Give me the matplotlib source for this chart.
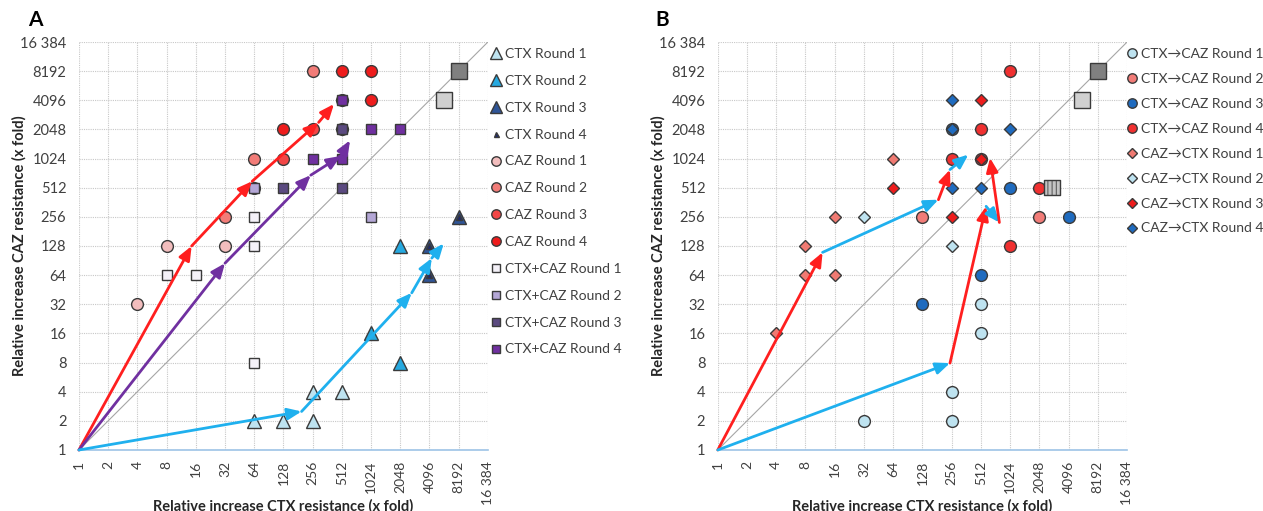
import numpy as np
import matplotlib
matplotlib.use("Agg")
import matplotlib.pyplot as plt

plt.rcParams["font.family"] = ["Lato", "DejaVu Sans"]
plt.rcParams["hatch.color"] = "#9A9A9A"
plt.rcParams["hatch.linewidth"] = 0.6

# fold increase values (x = CTX, y = CAZ)
ticks = [2 ** i for i in range(15)]
tick_labels = [str(t) for t in ticks[:-1]] + ["16 384"]

# panel A - single drug / combination evolution
ctx_r1 = ([64, 128, 256, 256, 512], [2, 2, 2, 4, 4])
ctx_r2 = ([1024, 2048, 2048], [16, 8, 128])
ctx_r3 = ([4096, 4096, 8192], [64, 128, 256])
ctx_r4 = ([4096, 4096, 8192], [64, 128, 256])
caz_r1 = ([4, 8, 32], [32, 128, 128])
caz_r2 = ([32, 64, 256], [256, 1024, 8192])
caz_r3 = ([128, 64, 256], [1024, 512, 2048])
caz_r4 = ([128, 512, 1024, 1024, 512, 512], [2048, 8192, 8192, 4096, 2048, 4096])
mix_r1 = ([8, 16, 64, 64, 64], [64, 64, 8, 128, 256])
mix_r2 = ([64, 1024], [512, 256])
mix_r3 = ([128, 512, 512], [512, 512, 2048])
mix_r4 = ([256, 512, 1024, 2048, 512], [1024, 1024, 2048, 2048, 4096])
ref_a = ([5800, 8192], [4096, 8192])

# mean trajectories panel A
path_caz = ([1, 14.5, 61, 295, 425], [1, 128, 597, 2420, 3750])
path_mix = ([1, 32, 245, 500, 622], [1, 85, 690, 1090, 1580])
path_ctx = ([1, 197, 2690, 4330, 5750], [1, 2.5, 42, 96, 136])

# panel B - sequential evolution
seq1_r1 = ([32, 256, 256, 512, 512], [2, 2, 4, 16, 32])
seq1_r2 = ([128, 2048], [256, 256])
seq1_r3 = ([128, 512, 1024, 4096, 256], [32, 64, 512, 256, 2048])
seq1_r4 = ([256, 512, 1024, 1024, 2048, 512], [1024, 2048, 8192, 128, 512, 1024])
seq2_r1 = ([4, 8, 16, 8, 16, 64], [16, 64, 64, 128, 256, 1024])
seq2_r2 = ([32, 256], [256, 128])
seq2_r3 = ([64, 256, 512, 512], [512, 256, 4096, 1024])
seq2_r4 = ([256, 256, 512, 1024, 256], [4096, 512, 512, 2048, 2048])
ref_b = ([5600, 8192, 2760], [4096, 8192, 512])

# trajectories panel B: (x, y) points, colour per segment
path_b1 = ([1, 12, 187, 246, 380], [1, 110, 385, 788, 1125])
path_b1_col = ["red", "blue", "red", "blue"]
path_b2 = ([1, 246, 579, 793, 636], [1, 7.9, 329, 224, 1040])
path_b2_col = ["blue", "red", "blue", "red"]

RED = "#FF1F1F"
BLUE = "#1FB0EE"
PURPLE = "#7030A0"
arrow_col = {"red": RED, "blue": BLUE, "purple": PURPLE}
EDGE = "#3A3A3A"
TXT = "#404040"


def setup_axes(ax):
    ax.set_xscale("log", base=2)
    ax.set_yscale("log", base=2)
    ax.set_xlim(1, 16384)
    ax.set_ylim(1, 16384)
    ax.set_xticks(ticks)
    ax.set_yticks(ticks)
    ax.set_xticklabels(tick_labels, rotation=90, fontsize=10, color=TXT)
    ax.set_yticklabels(tick_labels, fontsize=10.5, color=TXT)
    ax.minorticks_off()
    ax.tick_params(length=0, pad=9)
    ax.tick_params(axis="x", pad=8)
    ax.grid(True, color="#C8C8C8", linestyle=(0, (1, 1)), linewidth=0.8)
    ax.set_axisbelow(True)
    for s in ["top", "right", "left"]:
        ax.spines[s].set_visible(False)
    ax.spines["bottom"].set_color("#9DC3E6")
    ax.spines["bottom"].set_linewidth(1.2)
    ax.plot([1, 16384], [1, 16384], color="#A6A6A6", lw=0.8, zorder=1)
    ax.set_xlabel("Relative increase CTX resistance (x fold)", fontsize=10.5,
                  fontweight="bold", color="#262626")
    ax.set_ylabel("Relative increase CAZ resistance (x fold)", fontsize=10.5,
                  fontweight="bold", color="#262626")
    ax.xaxis.set_label_coords(0.5, -0.12)
    ax.yaxis.set_label_coords(-0.128, 0.5)


def draw_path(ax, pts, colors):
    xs, ys = pts
    for i in range(len(xs) - 1):
        ax.annotate("", xy=(xs[i + 1], ys[i + 1]), xytext=(xs[i], ys[i]),
                    arrowprops=dict(arrowstyle="-|>,head_length=0.6,head_width=0.25",
                                    color=arrow_col[colors[i]], lw=2,
                                    mutation_scale=14, shrinkA=0, shrinkB=0),
                    zorder=4)


def pts(ax, data, marker, color, ms, label=None, z=3):
    ax.plot(data[0], data[1], marker=marker, ls="none", ms=ms, mfc=color,
            mec=EDGE, mew=1, label=label, zorder=z)


fig = plt.figure(figsize=(12.63, 5.11), dpi=100)
axA = fig.add_axes([0.0625, 0.1194, 0.3238, 0.7984])
axB = fig.add_axes([0.5683, 0.1194, 0.3241, 0.7984])
setup_axes(axA)
setup_axes(axB)

# panel A markers
pts(axA, ctx_r1, "^", "#BEE3F0", 10, "CTX Round 1")
pts(axA, ctx_r2, "^", "#26A9E0", 10, "CTX Round 2")
pts(axA, ctx_r3, "^", "#2F5597", 10, "CTX Round 3")
pts(axA, ctx_r4, "^", "#1F2A6E", 4.5, "CTX Round 4")
pts(axA, caz_r1, "o", "#F2BDBD", 8.5, "CAZ Round 1")
pts(axA, caz_r2, "o", "#F27C78", 8.5, "CAZ Round 2")
pts(axA, caz_r3, "o", "#F24646", 8.5, "CAZ Round 3")
pts(axA, caz_r4, "o", "#EE1C1C", 8.5, "CAZ Round 4")
pts(axA, mix_r1, "s", "#F4F1F8", 6.8, "CTX+CAZ Round 1")
pts(axA, mix_r2, "s", "#B4A7D6", 6.8, "CTX+CAZ Round 2")
pts(axA, mix_r3, "s", "#5B4A80", 6.8, "CTX+CAZ Round 3")
pts(axA, mix_r4, "s", "#7030A0", 6.8, "CTX+CAZ Round 4")
axA.plot(ref_a[0][:1], ref_a[1][:1], "s", ms=11, mfc="#D0D0D0", mec=EDGE, mew=1, zorder=3)
axA.plot(ref_a[0][1:], ref_a[1][1:], "s", ms=11, mfc="#808080", mec=EDGE, mew=1, zorder=3)
draw_path(axA, path_caz, ["red"] * 4)
draw_path(axA, path_mix, ["purple"] * 4)
draw_path(axA, path_ctx, ["blue"] * 4)

# panel B markers
pts(axB, seq1_r1, "o", "#BEE3F0", 8.5, "CTX\u2192CAZ Round 1")
pts(axB, seq1_r2, "o", "#F27C78", 8.5, "CTX\u2192CAZ Round 2")
pts(axB, seq1_r3, "o", "#1F6BBF", 8.5, "CTX\u2192CAZ Round 3")
pts(axB, seq1_r4, "o", "#F03030", 8.5, "CTX\u2192CAZ Round 4")
pts(axB, seq2_r1, "D", "#F07A72", 6.5, "CAZ\u2192CTX Round 1")
pts(axB, seq2_r2, "D", "#BEE3F0", 6.5, "CAZ\u2192CTX Round 2")
pts(axB, seq2_r3, "D", "#EE1C1C", 6.5, "CAZ\u2192CTX Round 3")
pts(axB, seq2_r4, "D", "#1F6BBF", 6.5, "CAZ\u2192CTX Round 4")
axB.plot(ref_b[0][:1], ref_b[1][:1], "s", ms=11, mfc="#D0D0D0", mec=EDGE, mew=1, zorder=3)
axB.plot(ref_b[0][1:2], ref_b[1][1:2], "s", ms=11, mfc="#808080", mec=EDGE, mew=1, zorder=3)
axB.scatter(ref_b[0][2:], ref_b[1][2:], marker="s", s=121, c="#C4C4C4",
            edgecolors=EDGE, linewidths=1, hatch="||||", zorder=3)
draw_path(axB, path_b1, path_b1_col)
draw_path(axB, path_b2, path_b2_col)

# legends
for ax, anchor, sp in [(axA, (490 / 1263, 1 - 48 / 511), 1.07),
                       (axB, (1126 / 1263, 1 - 48 / 511), 0.93)]:
    h, l = ax.get_legend_handles_labels()
    fig.legend(h, l, loc="upper left", bbox_to_anchor=anchor, frameon=False,
               fontsize=10, labelspacing=sp, handlelength=0.8,
               handletextpad=0.3, borderpad=0, borderaxespad=0,
               markerscale=0.8, labelcolor=TXT)

fig.text(28 / 1263, 1 - 20 / 511, "A", fontsize=15, fontweight="bold", va="center")
fig.text(655 / 1263, 1 - 20 / 511, "B", fontsize=15, fontweight="bold", va="center")

fig.savefig("out.png", dpi=100)
